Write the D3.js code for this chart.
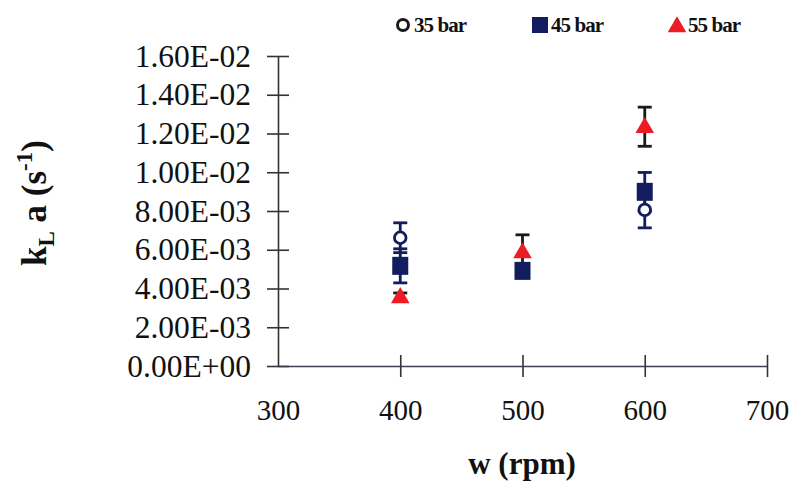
<!DOCTYPE html>
<html><head><meta charset="utf-8">
<script src="https://cdn.jsdelivr.net/npm/d3@7"></script>
<style>body{margin:0;background:#fff}svg{display:block}</style>
</head><body>
<svg id="c" width="792" height="483"></svg>
<script>
const speeds = [400, 500, 600];
const series = ["35 bar", "45 bar", "55 bar"];
const kla35 = [0.00662, null, 0.00806];
const err35 = [0.00077, null, 0.00093];
const kla45 = [0.00517, 0.00491, 0.00899];
const err45 = [0.00088, 0.0, 0.00100];
const kla55 = [0.00357, 0.00589, 0.01235];
const err55 = [0.00020, 0.00088, 0.00101];
const xTicks = [300, 400, 500, 600, 700];
const yTicks = [0, 0.002, 0.004, 0.006, 0.008, 0.010, 0.012, 0.014, 0.016];
const yTickLabels = ["0.00E+00","2.00E-03","4.00E-03","6.00E-03","8.00E-03","1.00E-02","1.20E-02","1.40E-02","1.60E-02"];

const navy = "#111d5e", red = "#ec1b24";
const svg = d3.select("#c");
const x = d3.scaleLinear().domain([300, 700]).range([278, 767]);
const y = d3.scaleLinear().domain([0, 0.016]).range([366, 56]);
const serif = "'Liberation Serif', 'Times New Roman', serif";

// axes
const yAxis = d3.axisLeft(y).tickValues(yTicks).tickFormat((d,i)=>yTickLabels[i]).tickSize(0);
const gy = svg.append("g").attr("transform", `translate(${x(300)},0)`).call(yAxis);
gy.select(".domain").attr("stroke", "#333").attr("stroke-width", 1.6);
gy.selectAll(".tick line").remove();
gy.selectAll(".tick").append("line").attr("x1", -11).attr("x2", 11).attr("stroke", "#333").attr("stroke-width", 1.6);
gy.selectAll(".tick text").attr("x", -27).attr("font-family", serif).attr("font-size", 31.5).attr("fill", "#111");

const xAxis = d3.axisBottom(x).tickValues(xTicks).tickFormat(d3.format("d")).tickSize(0);
const gx = svg.append("g").attr("transform", `translate(0,${y(0)})`).call(xAxis);
gx.select(".domain").attr("stroke", "#3a4050").attr("stroke-width", 1.6);
gx.selectAll(".tick line").remove();
gx.selectAll(".tick").filter(d=>d!==300).append("line").attr("y1", -11).attr("y2", 11).attr("stroke", "#333").attr("stroke-width", 1.6);
gx.selectAll(".tick text").attr("y", 45).attr("dy", "0.32em").attr("font-family", serif).attr("font-size", 29).attr("fill", "#111");

// axis titles
svg.append("text").attr("x", 522).attr("y", 474).attr("text-anchor", "middle")
  .attr("font-family", serif).attr("font-weight", "bold").attr("font-size", 31).attr("fill", "#111").text("w (rpm)");
const yt = svg.append("text").attr("transform", "translate(46,203) rotate(-90)").attr("text-anchor", "middle")
  .attr("font-family", serif).attr("font-weight", "bold").attr("font-size", 35).attr("fill", "#111");
yt.append("tspan").text("k");
yt.append("tspan").attr("font-size", 23).attr("dy", 8).text("L");
yt.append("tspan").attr("dy", -8).text(" a (s");
yt.append("tspan").attr("font-size", 23).attr("dy", -14).text("-1");
yt.append("tspan").attr("dy", 14).text(")");

// data
function pts(vals, errs){ return speeds.map((s,i)=>({s, v: vals[i], e: errs[i]})).filter(d=>d.v!==null); }
const d35 = pts(kla35, err35), d45 = pts(kla45, err45), d55 = pts(kla55, err55);

function errorBars(data, color){
  const g = svg.append("g").attr("stroke", color).attr("stroke-width", 2.8);
  data.filter(d=>d.e>0).forEach(d=>{
    const cx = x(d.s);
    g.append("line").attr("x1", cx).attr("x2", cx).attr("y1", y(d.v+d.e)).attr("y2", y(d.v-d.e));
    g.append("line").attr("x1", cx-7).attr("x2", cx+7).attr("y1", y(d.v+d.e)).attr("y2", y(d.v+d.e));
    g.append("line").attr("x1", cx-7).attr("x2", cx+7).attr("y1", y(d.v-d.e)).attr("y2", y(d.v-d.e));
  });
}
errorBars(d55, "#1a1a1a");
errorBars(d45, navy);
errorBars(d35, navy);

const tri = d3.symbol().type(d3.symbolTriangle).size(150);
svg.append("g").selectAll("path").data(d55).join("path")
  .attr("d", tri).attr("transform", d=>`translate(${x(d.s)},${y(d.v)+1})`).attr("fill", red);
svg.append("g").selectAll("rect").data(d45).join("rect")
  .attr("x", d=>x(d.s)-8).attr("y", d=>y(d.v)-9).attr("width", 16).attr("height", 18).attr("fill", navy);
svg.append("g").selectAll("circle").data(d35).join("circle")
  .attr("cx", d=>x(d.s)).attr("cy", d=>y(d.v)).attr("r", 5.8).attr("fill", "#fff").attr("stroke", navy).attr("stroke-width", 2.8);

// legend
const lg = svg.append("g").attr("font-family", serif).attr("font-size", 21).attr("fill", "#111");
const legX = [403, 540, 677];
lg.append("circle").attr("cx", legX[0]).attr("cy", 25).attr("r", 5.5).attr("fill", "#fff").attr("stroke", "#1a1a1a").attr("stroke-width", 3);
lg.append("rect").attr("x", legX[1]-8).attr("y", 17).attr("width", 16).attr("height", 16).attr("fill", navy);
lg.append("path").attr("d", d3.symbol().type(d3.symbolTriangle).size(150)).attr("transform", `translate(${legX[2]},27)`).attr("fill", red);
series.forEach((s,i)=>{
  lg.append("text").attr("x", legX[i]+11).attr("y", 32).attr("font-weight", 600).attr("textLength", 53).text(s);
});
</script>
</body></html>
